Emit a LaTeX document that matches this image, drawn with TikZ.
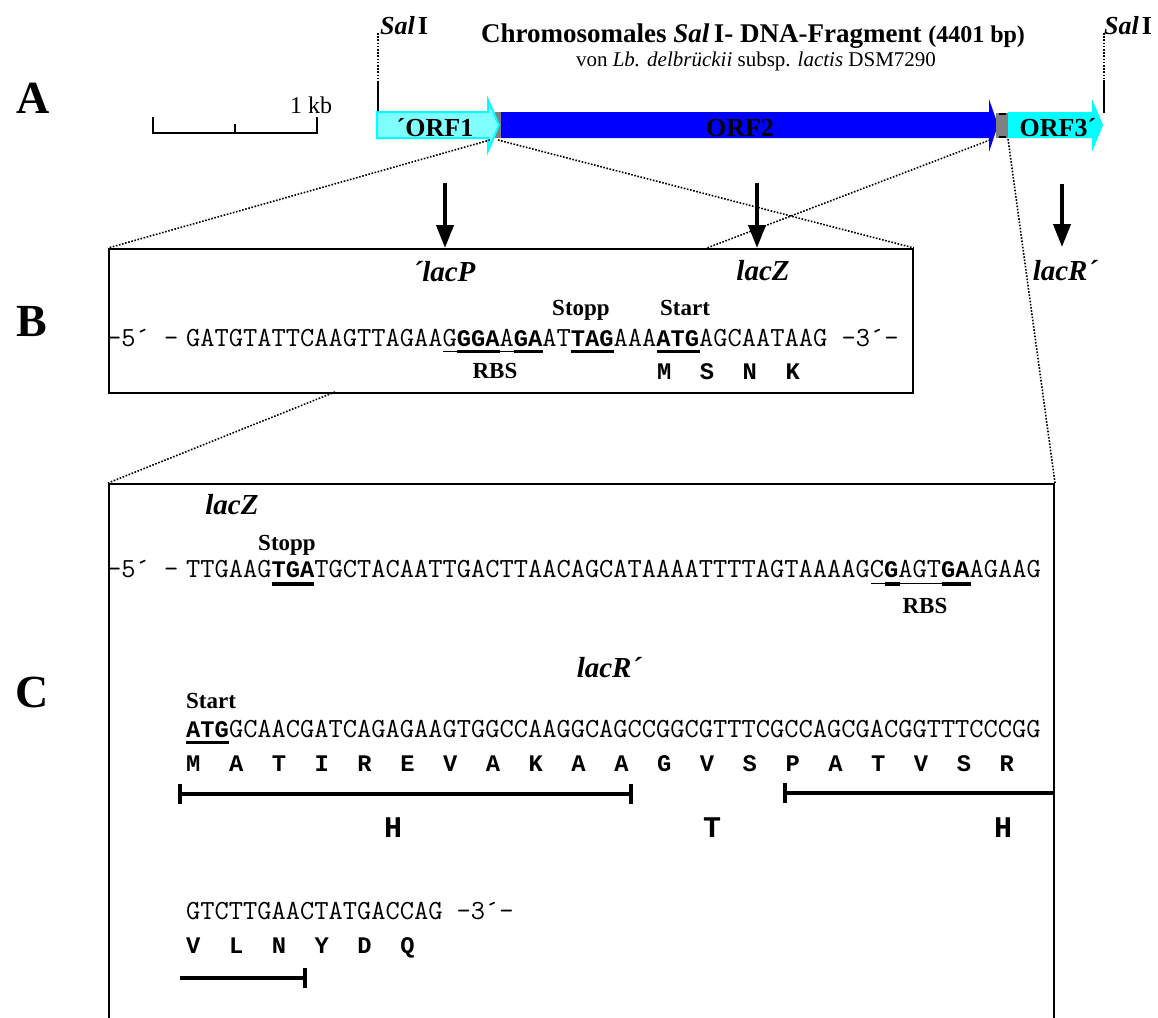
\documentclass[tikz,border=0pt]{standalone}
\usepackage{fontspec}
\setmainfont{Liberation Serif}
\newfontfamily\seqboldfont{Liberation Mono}
\usepackage{tikz}
\usetikzlibrary{arrows.meta,positioning,calc}

\definecolor{orfpale}{RGB}{128,255,255}
\definecolor{orfcyan}{RGB}{0,255,255}
\definecolor{orfblue}{RGB}{0,0,255}
\definecolor{orfgap}{RGB}{128,128,128}

\newcommand{\cw}{14.27}
\newcommand{\bseq}[1]{{\fontsize{23.78}{24}\selectfont\seqboldfont\bfseries #1}}

\begin{document}
\begin{tikzpicture}[x=1pt, y=-1pt,
    panel/.style={font=\fontsize{46}{46}\selectfont\bfseries, inner sep=0},
    seq/.style={font=\fontsize{27.65}{28}\selectfont\ttfamily, inner sep=0,
                anchor=base west},
    aa/.style={font=\fontsize{23.78}{24}\selectfont\seqboldfont\bfseries,
               inner sep=0, anchor=base west},
    gene/.style={font=\fontsize{29}{29}\selectfont\bfseries\itshape,
                 inner sep=0, anchor=base},
    tag/.style={font=\fontsize{23}{23}\selectfont\bfseries, inner sep=0,
                anchor=base},
    orf/.style={font=\fontsize{26}{26}\selectfont\bfseries, inner sep=0},
    helixname/.style={font=\fontsize{30}{30}\selectfont\seqboldfont\bfseries,
                      inner sep=0},
    frame/.style={draw, line width=2pt, inner sep=0, anchor=north west},
    zoomline/.style={line width=1.6pt, dash pattern=on 1.6pt off 1.6pt},
    arrow/.style={-{Triangle[length=23pt,width=17pt]}, line width=4pt},
    ul/.style={line width=3.5pt},
    thinul/.style={line width=1.2pt},
    helix/.style={line width=4pt}
]
\fill[white] (0,0) rectangle (1158,1017);
\useasboundingbox (0,0) rectangle (1158,1017);

% panel letters
\node[panel] (pA) at (33,98)  {A};
\node[panel] (pB) at (32,322) {B};
\node[panel] (pC) at (32,692) {C};

% title
\node[anchor=base, font=\fontsize{27}{27}\selectfont\bfseries, inner sep=0]
  (title) at (753,42)
  {Chromosomales \textit{Sal}\,I- DNA-Fragment {\fontsize{24}{24}\selectfont(4401 bp)}};
\node[anchor=base, font=\fontsize{21}{21}\selectfont, inner sep=0]
  (subtitle) at (756,66)
  {von \textit{Lb. delbrückii} subsp. \textit{lactis} DSM7290};

% scale bar
\draw[line width=1.5pt] (153,117) -- (153,133) -- (317,133) -- (317,117)
                        (235,124) -- (235,133);
\node[anchor=base, font=\fontsize{24}{24}\selectfont, inner sep=0] (kb)
  at (311,113) {1 kb};

% SalI sites
\node[anchor=base west, font=\fontsize{26}{26}\selectfont\bfseries, inner sep=0]
  (salL) at (380,34) {\textit{Sal}\kern3pt I};
\node[anchor=base west, font=\fontsize{26}{26}\selectfont\bfseries, inner sep=0]
  (salR) at (1104,34) {\textit{Sal}\kern3pt I};
\coordinate (salLtop) at (378,33);  \coordinate (salLmid) at (378,83);
\coordinate (salLbar) at (378,112);
\coordinate (salRtop) at (1104,33); \coordinate (salRmid) at (1104,80);
\coordinate (salRbar) at (1104,113);
\draw[zoomline] (salLtop) -- (salLmid); \draw[line width=1.5pt] (salLmid) -- (salLbar);
\draw[zoomline] (salRtop) -- (salRmid); \draw[line width=1.5pt] (salRmid) -- (salRbar);

% ORF map
\fill[orfgap] (495,112) rectangle (502,138);
\fill[orfpale] (377,112) -- (488,112) -- (488,100) -- (499,125) -- (488,151)
               -- (488,138) -- (377,138) -- cycle;
\draw[orfcyan, line width=2pt] (377,112) -- (488,112) -- (488,100) -- (499,125)
               -- (488,151) -- (488,138) -- (377,138) -- cycle;
\fill[orfblue] (501,112) -- (989,112) -- (989,99) -- (998,125) -- (989,152)
               -- (989,138) -- (501,138) -- cycle;
\fill[orfgap] (996,113) rectangle (1009,138);
\draw[line width=2pt] (999,114) -- (1006,114) (999,137) -- (1006,137);
\fill[orfcyan] (1008,112) -- (1092,112) -- (1092,99) -- (1103,125) -- (1092,152)
               -- (1092,138) -- (1008,138) -- cycle;
\node[orf] (orf1) at (435,128) {´ORF1};
\node[orf] (orf2) at (740,128) {ORF2};
\node[orf] (orf3) at (1058,128) {ORF3´};

% boxes
\node[frame, minimum width=804pt, minimum height=144pt] (boxB) at (108,248) {};
\node[frame, minimum width=945pt, minimum height=560pt] (boxC) at (108,483) {};

% zoom lines
\coordinate (o1a) at (490,140);
\coordinate (o1b) at (498,140);
\coordinate (o2e) at (990,140);
\coordinate (o3s) at (1008,139);
\coordinate (bcut) at (707,248);
\coordinate (bbot) at (335,392);
\draw[zoomline] (o1a) -- (boxB.north west);
\draw[zoomline] (o1b) -- (boxB.north east);
\draw[zoomline] (o2e) -- (bcut);
\draw[zoomline] (o3s) -- (boxC.north east);
\draw[zoomline] (bbot) -- (boxC.north west);

% arrows to genes
\coordinate (arrP) at (445,183);
\coordinate (arrZ) at (757,183);
\coordinate (arrR) at (1062,184);
\coordinate (arrRend) at (1062,247);
\draw[arrow] (arrP) -- (arrP |- boxB.north);
\draw[arrow] (arrZ) -- (arrZ |- boxB.north);
\draw[arrow] (arrR) -- (arrRend);
\node[gene] (lacPB) at (444,281) {´lacP};
\node[gene] (lacZB) at (763,280) {lacZ};
\node[gene] (lacRA) at (1065,280) {lacR´};

% panel B sequence
\node[tag] (stoppB) at (581,315) {Stopp};
\node[tag] (startB) at (685,315) {Start};
\node[seq] (p5B) at (107,346) {-5´~-};
\node[seq] (seqB) at (186,346)
  {GATGTATTCAAGTTAGAAG\bseq{GGA}A\bseq{GA}AT\bseq{TAG}AAA\bseq{ATG}AGCAATAAG~-3´-};
\draw[thinul] ($(seqB.base west)+(18*\cw,5.5)$) -- ($(seqB.base west)+(25*\cw,5.5)$);
\foreach \a/\b in {19/22,23/25,27/30,33/36}
  \draw[ul] ($(seqB.base west)+(\a*\cw,5.5)$) -- ($(seqB.base west)+(\b*\cw,5.5)$);
\node[tag] (rbsB) at (495,378) {RBS};
\foreach \a [count=\i from 0] in {M,S,N,K}
  \node[aa] (aaB\i) at ($(seqB.base west)+(33*\cw+3*\i*\cw,33)$) {\a};

% panel C sequence
\node[gene] (lacZC) at (232,514) {lacZ};
\node[tag] (stoppC) at (287,550) {Stopp};
\node[seq] (p5C) at (107,577) {-5´~-};
\node[seq] (seqC1) at (186,577)
  {TTGAAG\bseq{TGA}TGCTACAATTGACTTAACAGCATAAAATTTTAGTAAAAGC\bseq{G}AGT\bseq{GA}AGAAG};
\draw[thinul] ($(seqC1.base west)+(48*\cw,6.5)$) -- ($(seqC1.base west)+(55*\cw,6.5)$);
\foreach \a/\b in {6/9,49/50,53/55}
  \draw[ul] ($(seqC1.base west)+(\a*\cw,7)$) -- ($(seqC1.base west)+(\b*\cw,7)$);
\node[tag] (rbsC) at (925,613) {RBS};

\node[gene] (lacRC) at (609,677) {lacR´};
\node[tag] (startC) at (211,708) {Start};
\node[seq] (seqC2) at (186,737)
  {\bseq{ATG}GCAACGATCAGAGAAGTGGCCAAGGCAGCCGGCGTTTCGCCAGCGACGGTTTCCCGG};
\draw[ul] ($(seqC2.base west)+(0,5.5)$) -- ($(seqC2.base west)+(3*\cw,5.5)$);
\foreach \a [count=\i from 0] in {M,A,T,I,R,E,V,A,K,A,A,G,V,S,P,A,T,V,S,R}
  \node[aa] (aaC\i) at ($(seqC2.base west)+(3*\i*\cw,34)$) {\a};

% secondary structure
\coordinate (h1s) at (180,794); \coordinate (h1e) at (631,794);
\coordinate (h2s) at (785,793); \coordinate (h2e) at (boxC.east |- h2s);
\coordinate (h3s) at (180,978); \coordinate (h3e) at (305,978);
\draw[helix] (h1s) -- (h1e) (h2s) -- (h2e) (h3s) -- (h3e);
\foreach \p in {h1s,h1e,h2s,h3e}
  \draw[helix] ($(\p)+(0,-10)$) -- ($(\p)+(0,10)$);
\node[helixname] (hx1) at (393,828) {H};
\node[helixname] (tn1) at (712,828) {T};
\node[helixname] (hx2) at (1003,828) {H};

\node[seq] (seqC3) at (186,919) {GTCTTGAACTATGACCAG~-3´-};
\foreach \a [count=\i from 0] in {V,L,N,Y,D,Q}
  \node[aa] (aaD\i) at ($(seqC3.base west)+(3*\i*\cw,34)$) {\a};
\end{tikzpicture}
\end{document}
